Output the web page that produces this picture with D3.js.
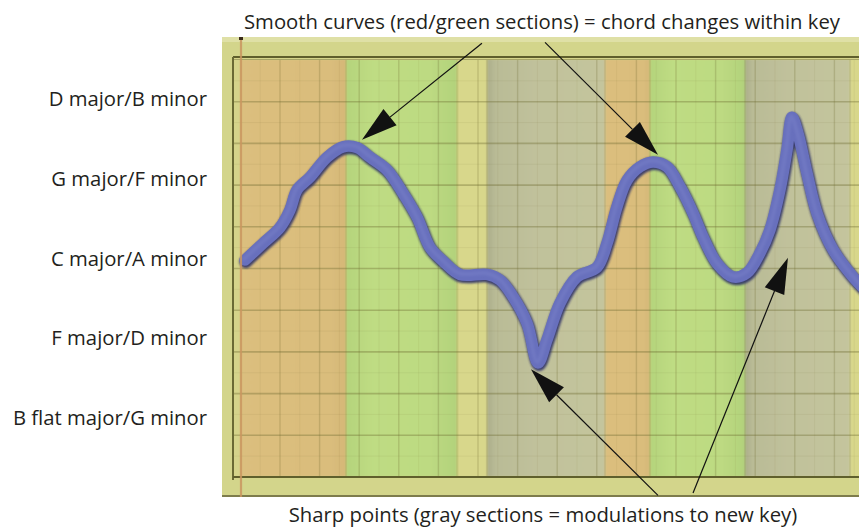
<!DOCTYPE html>
<html><head><meta charset="utf-8">
<script src="https://cdn.jsdelivr.net/npm/d3@7"></script>
<style>html,body{margin:0;padding:0;background:#fff;}svg{display:block;}</style>
</head><body>
<script>
// ---- data ----
const keyLabels = ["B flat major/G minor","F major/D minor","C major/A minor","G major/F minor","D major/B minor"];
const curveT = [0.46,2.28,4.0,5.01,5.72,7.03,8.75,10.36,11.78,13.09,14.81,16.42,17.84,19.15,20.46,22.18,24.91,26.22,27.54,28.95,30.06,30.97,32.28,34.0,36.02,37.03,38.04,39.05,40.36,41.68,43.09,44.4,45.72,46.73,48.14,49.76,51.17,52.48,53.49,54.5,55.21,55.72,56.32,57.23,58.24,59.86,61.88,63.0];
const curveV = [1.98,2.19,2.39,2.61,2.86,3.02,3.27,3.40,3.39,3.27,3.11,2.82,2.52,2.14,1.97,1.80,1.80,1.73,1.52,1.19,0.69,0.98,1.44,1.77,1.89,2.19,2.65,2.98,3.15,3.21,3.15,2.90,2.57,2.27,1.94,1.77,1.82,2.07,2.36,2.86,3.36,3.77,3.57,3.07,2.57,2.11,1.77,1.62];
const bandStart = [0, 10.67, 21.88, 24.91, 36.83, 41.37, 50.97, 61.58];
const bandEnd   = [10.67, 21.88, 24.91, 36.83, 41.37, 50.97, 61.58, 64];
const bandType  = ["orange","green","yellow","gray","orange","green","gray","yellow"];
const topNote = "Smooth curves (red/green sections) = chord changes within key";
const bottomNote = "Sharp points (gray sections = modulations to new key)";
const arrowTailT = [24.4, 30.77, 42.18, 45.72];
const arrowTailV = [4.70, 4.71, -0.97, -0.94];
const arrowTipT  = [12.28, 42.18, 29.35, 55.31];
const arrowTipV  = [3.49, 3.30, 0.61, 2.01];

// ---- layout ----
const W = 859, H = 531;
const panel = {x0:222, x1:859, y0:37, y1:497};
const inner = {x0:233, y0:57, y1:477};
const x = d3.scaleLinear().domain([0, 64]).range([240.4, 240.4 + 64*9.9]);
const y = d3.scaleLinear().domain([0, 4]).range([418, 99]);
const gridY = d3.scaleLinear().domain([0, 10]).range([60, 477]);
const FONT = "'Open Sans', sans-serif";

const svg = d3.select("body").append("svg").attr("width", W).attr("height", H);
const defs = svg.append("defs");
const soft = defs.append("filter").attr("id","soft").attr("x","-5%").attr("y","-5%").attr("width","110%").attr("height","110%");
soft.append("feGaussianBlur").attr("stdDeviation", 0.9);
const blurLine = defs.append("filter").attr("id","blurLine").attr("x","-5%").attr("y","-5%").attr("width","110%").attr("height","110%");
blurLine.append("feGaussianBlur").attr("stdDeviation", 1.2);
const grayGrad = defs.append("linearGradient").attr("id","grayGrad");
[[0,"#abad8a"],[0.07,"#b9bb96"],[0.4,"#c0c19b"],[1,"#c4c59d"]].forEach(([o,c])=>grayGrad.append("stop").attr("offset",o).attr("stop-color",c));
const greenGrad = defs.append("linearGradient").attr("id","greenGrad");
[[0,"#b4d47c"],[0.25,"#bfdc83"],[0.75,"#bdda82"],[1,"#b2d27b"]].forEach(([o,c])=>greenGrad.append("stop").attr("offset",o).attr("stop-color",c));
const orangeGrad = defs.append("linearGradient").attr("id","orangeGrad");
[[0,"#dbbf7e"],[0.85,"#dabd7c"],[1,"#d5b777"]].forEach(([o,c])=>orangeGrad.append("stop").attr("offset",o).attr("stop-color",c));
const fills = {orange:"url(#orangeGrad)", green:"url(#greenGrad)", yellow:"#d8d78b", gray:"url(#grayGrad)"};
defs.append("clipPath").attr("id","plotClip").append("rect")
  .attr("x", inner.x0+1).attr("y", inner.y0+2).attr("width", panel.x1-inner.x0).attr("height", inner.y1-inner.y0-2);

// panel background
svg.append("rect").attr("x",panel.x0).attr("y",panel.y0).attr("width",panel.x1-panel.x0).attr("height",panel.y1-panel.y0).attr("fill","#d3d58b");
svg.append("rect").attr("x",panel.x0).attr("y",panel.y0).attr("width",panel.x1-panel.x0).attr("height",5).attr("fill","#dfe0a6");
svg.append("rect").attr("x",inner.x0).attr("y",inner.y0).attr("width",panel.x1-inner.x0).attr("height",inner.y1-inner.y0).attr("fill","#d5d48a");

const plot = svg.append("g").attr("clip-path","url(#plotClip)");
const bandG = plot.append("g").attr("filter","url(#soft)");
bandType.forEach((t,i)=>{
  bandG.append("rect").attr("x", x(bandStart[i])).attr("y", inner.y0+2)
    .attr("width", x(bandEnd[i]) - x(bandStart[i])).attr("height", inner.y1-inner.y0-2)
    .attr("fill", fills[t]);
});
// grid
const gridG = plot.append("g").attr("stroke","#6d6a2e").attr("fill","none");
d3.range(1,10).forEach(k=>{
  gridG.append("line").attr("x1",inner.x0).attr("x2",panel.x1).attr("y1",gridY(k)).attr("y2",gridY(k)).attr("stroke-opacity",0.36).attr("stroke-width",1.6);
  gridG.append("line").attr("x1",inner.x0).attr("x2",panel.x1).attr("y1",gridY(k-0.5)).attr("y2",gridY(k-0.5)).attr("stroke-opacity",0.08).attr("stroke-width",1);
});
gridG.append("line").attr("x1",inner.x0).attr("x2",panel.x1).attr("y1",gridY(9.5)).attr("y2",gridY(9.5)).attr("stroke-opacity",0.08);
d3.range(4, 64, 4).forEach(t=>{
  gridG.append("line").attr("x1",x(t)).attr("x2",x(t)).attr("y1",inner.y0).attr("y2",inner.y1).attr("stroke-opacity",0.24).attr("stroke-width",1.4);
});
d3.range(2, 64, 4).forEach(t=>{
  gridG.append("line").attr("x1",x(t)).attr("x2",x(t)).attr("y1",inner.y0).attr("y2",inner.y1).attr("stroke-opacity",0.07).attr("stroke-width",1);
});
bandStart.slice(1).forEach(t=>{
  gridG.append("line").attr("x1",x(t)).attr("x2",x(t)).attr("y1",inner.y0).attr("y2",inner.y1).attr("stroke-opacity",0.16).attr("stroke-width",1.4);
});

// frame lines
svg.append("line").attr("x1",inner.x0).attr("x2",panel.x1).attr("y1",inner.y0).attr("y2",inner.y0).attr("stroke","#5f5f2c").attr("stroke-width",2.2);
svg.append("line").attr("x1",inner.x0).attr("x2",panel.x1).attr("y1",inner.y0+2.5).attr("y2",inner.y0+2.5).attr("stroke","#a7a566").attr("stroke-width",1);
svg.append("line").attr("x1",inner.x0).attr("x2",inner.x0).attr("y1",inner.y0).attr("y2",inner.y1+3).attr("stroke","#6a6a34").attr("stroke-width",2);
svg.append("line").attr("x1",inner.x0).attr("x2",panel.x1).attr("y1",inner.y1).attr("y2",inner.y1).attr("stroke","#5f5f2c").attr("stroke-width",2.2);
svg.append("line").attr("x1",panel.x0).attr("x2",panel.x1).attr("y1",panel.y1-1).attr("y2",panel.y1-1).attr("stroke","#7d7c4c").attr("stroke-width",2);
// playhead
svg.append("line").attr("x1",x(0)+0.6).attr("x2",x(0)+0.6).attr("y1",panel.y0).attr("y2",panel.y1).attr("stroke","#c9955f").attr("stroke-width",2.2).attr("stroke-opacity",0.85);
svg.append("rect").attr("x",x(0)-1.4).attr("y",panel.y0).attr("width",4).attr("height",3).attr("fill","#3a2a1a");

// curve
const pts = curveT.map((t,i)=>[t, curveV[i]]);
const line = d3.line().x(d=>x(d[0])).y(d=>y(d[1])).curve(d3.curveCatmullRom.alpha(0.5));
const curveG = plot.append("g");
curveG.append("path").attr("d", line(pts)).attr("fill","none").attr("stroke","#2e3268")
  .attr("stroke-width",13).attr("stroke-linecap","round").attr("stroke-linejoin","round")
  .attr("transform","translate(0.8,1.6)").attr("filter","url(#blurLine)").attr("opacity",0.9);
curveG.append("path").attr("d", line(pts)).attr("fill","none").attr("stroke","#6870bd")
  .attr("stroke-width",11.5).attr("stroke-linecap","round").attr("stroke-linejoin","round");
curveG.append("path").attr("d", line(pts)).attr("fill","none").attr("stroke","#7880c8")
  .attr("stroke-width",4).attr("stroke-linecap","round").attr("stroke-linejoin","round")
  .attr("transform","translate(-0.8,-1.2)").attr("opacity",0.5).attr("filter","url(#blurLine)");

// key labels (axis)
const axis = d3.axisLeft(y).tickValues([0,1,2,3,4]).tickFormat(v=>keyLabels[v]).tickSize(0).tickPadding(0);
const axG = svg.append("g").attr("transform","translate(207,0)").call(axis);
axG.select(".domain").remove();
axG.selectAll("text").attr("font-family",FONT).attr("font-size",20.3).attr("fill","#231f20");

// annotation texts
svg.append("text").attr("x",542).attr("y",29).attr("text-anchor","middle")
  .attr("font-family",FONT).attr("font-size",20.3).attr("fill","#231f20").text(topNote);
svg.append("text").attr("x",543).attr("y",522).attr("text-anchor","middle")
  .attr("font-family",FONT).attr("font-size",20.3).attr("fill","#231f20").text(bottomNote);

// arrows
const headLen = 36, headW = 21;
arrowTipT.forEach((t,i)=>{
  const x1 = x(arrowTailT[i]), y1 = y(arrowTailV[i]);
  const x2 = x(t), y2 = y(arrowTipV[i]);
  const dx = x2-x1, dy = y2-y1, L = Math.hypot(dx,dy);
  const ux = dx/L, uy = dy/L;
  const bx = x2 - ux*headLen, by = y2 - uy*headLen;
  svg.append("line").attr("x1",x1).attr("y1",y1).attr("x2",bx).attr("y2",by).attr("stroke","#111").attr("stroke-width",1.2);
  svg.append("path").attr("d", `M${x2},${y2}L${bx - uy*headW/2},${by + ux*headW/2}L${bx + uy*headW/2},${by - ux*headW/2}Z`).attr("fill","#111");
});
</script>
</body></html>
